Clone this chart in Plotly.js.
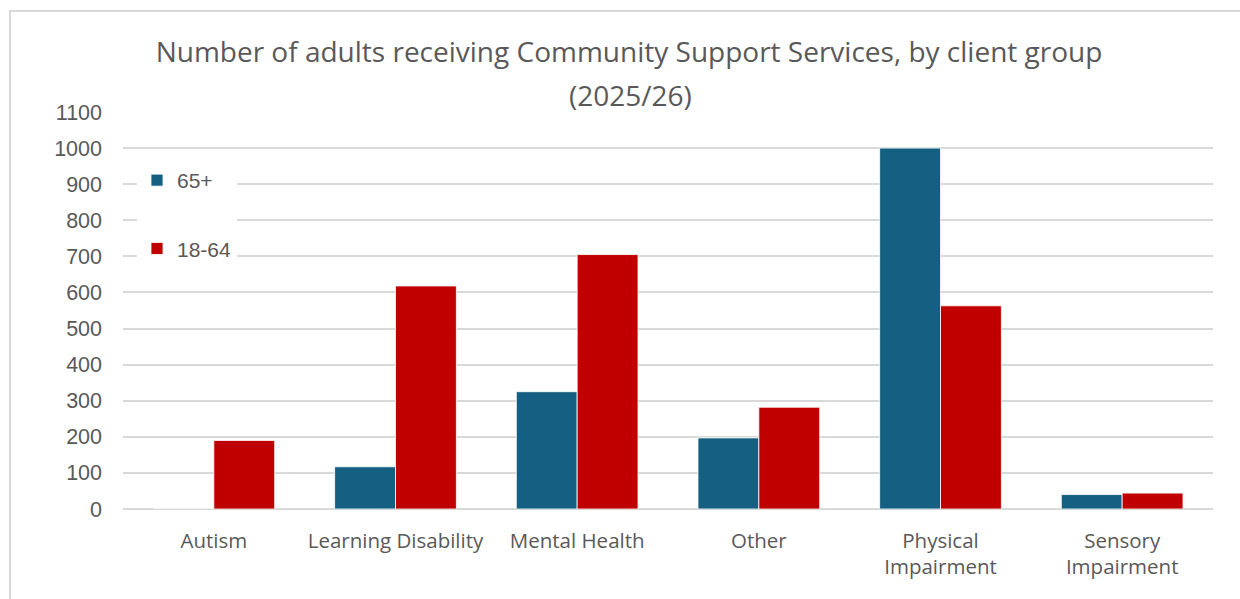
<!DOCTYPE html>
<html>
<head>
<meta charset="utf-8">
<script src="https://cdn.plot.ly/plotly-3.0.1.min.js"></script>
<style>html,body{margin:0;padding:0;background:#fff;}#chart{width:1240px;height:599px;}</style>
</head>
<body>
<div id="chart"></div>
<script>
const categories = ["Autism", "Learning Disability", "Mental Health", "Other", "Physical<br>Impairment", "Sensory<br>Impairment"];
const series65plus = [0, 117, 325, 197, 1000, 40];
const series18to64 = [190, 618, 705, 282, 563, 44];
const yTicks = [0,100,200,300,400,500,600,700,800,900,1000,1100];
const titleLine1 = 'Number of adults receiving Community Support Services, by client group';
const titleLine2 = '(2025/26)';

const wide = "'Open Sans', 'Noto Sans', sans-serif";
const sans = "'Liberation Sans', Arial, sans-serif";

const traces = [
  {type:'bar', name:'65+', x:categories, y:series65plus, legendgroup:'a',
   marker:{color:'#156082', line:{color:'#ffffff', width:0.8}}, hoverinfo:'x+y+name'},
  {type:'bar', name:'18-64', x:categories, y:series18to64, legendgroup:'b',
   marker:{color:'#C00000', line:{color:'#ffffff', width:0.8}}, hoverinfo:'x+y+name'}
];

const L = 123, R = 27, T = 112, B = 90;
const pw = 1240 - L - R, ph = 599 - T - B;
const px = v => (v - L) / pw;
const py = v => (599 - B - v) / ph;

const layout = {
  width:1240, height:599,
  margin:{l:L, r:R, t:T, b:B, pad:0},
  paper_bgcolor:'#ffffff', plot_bgcolor:'#ffffff',
  barmode:'group', bargap:0.33, bargroupgap:0,
  title:{text:titleLine1, xref:'paper', x:px(629), xanchor:'center', yref:'container', y:1-52/599, yanchor:'middle',
         font:{family:wide, size:28, color:'#595959'}},
  annotations:[{text:titleLine2, xref:'paper', yref:'paper', x:px(630), y:py(95), xanchor:'center', yanchor:'middle',
         showarrow:false, font:{family:wide, size:28, color:'#595959'}}],
  xaxis:{type:'category', tickvals:categories, ticktext:categories, showgrid:false, showline:false, ticks:'', zeroline:false,
         tickfont:{family:wide, size:20.5, color:'#595959'}, ticklabelstandoff:17, fixedrange:true},
  yaxis:{range:[0,1100], tickvals:yTicks, showgrid:true, gridcolor:'#d9d9d9', gridwidth:1.5,
         zeroline:true, zerolinecolor:'#d9d9d9', zerolinewidth:1.5, showline:false, ticks:'',
         tickfont:{family:sans, size:21.5, color:'#595959'}, ticklabelstandoff:20, fixedrange:true},
  legend:{x:px(137), y:py(160), xanchor:'left', yanchor:'top', bgcolor:'#ffffff',
          font:{family:sans, size:21, color:'#595959'}, traceorder:'grouped', tracegroupgap:38,
          itemclick:false, itemdoubleclick:false},
  shapes:[{type:'rect', xref:'paper', yref:'paper', x0:px(10), x1:px(1300), y0:py(700), y1:py(11),
           line:{color:'#d9d9d9', width:2}, fillcolor:'rgba(0,0,0,0)', layer:'below'}]
};

Plotly.newPlot('chart', traces, layout, {displayModeBar:false});
</script>
</body>
</html>
